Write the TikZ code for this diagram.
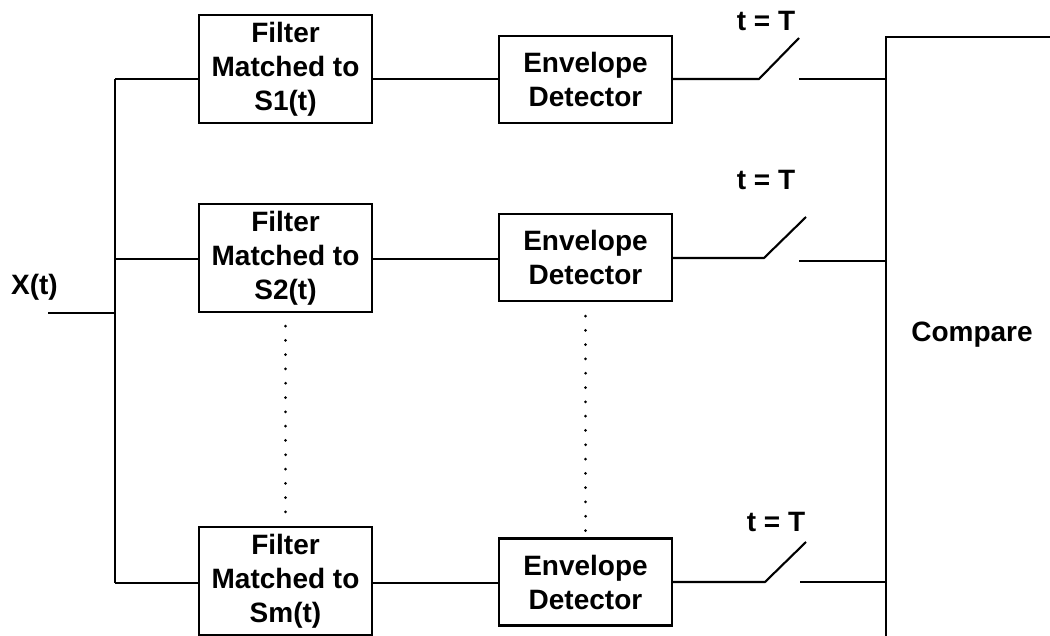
\documentclass[tikz,border=0pt]{standalone}
\usepackage{fontspec}
\setmainfont{Liberation Sans}
\usetikzlibrary{calc}
\begin{document}
\begin{tikzpicture}[x=1pt,y=-1pt,line width=2.1pt,
  txt/.style={font=\bfseries\fontsize{28}{34}\selectfont},
  filterbox/.style={draw,txt,align=center,inner sep=0pt,minimum width=173pt,minimum height=108pt},
  envbox/.style={draw,txt,align=center,inner sep=0pt,minimum width=173pt,minimum height=87pt},
  lbl/.style={txt,inner sep=0pt},
  dotline/.style={line width=3pt,line cap=round,dash pattern=on 0pt off 14.3pt}]
\useasboundingbox (0,0) rectangle (1050,636);

% matched filters
\node[filterbox] (f1) at (285.5,69)  {Filter\\Matched to\\S1(t)};
\node[filterbox] (f2) at (285.5,258) {Filter\\Matched to\\S2(t)};
\node[filterbox] (f3) at (285.5,581) {Filter\\Matched to\\Sm(t)};

% envelope detectors
\node[envbox] (e1) at (585.5,79.5) {Envelope\\Detector};
\node[envbox] (e2) at (585.5,257.5) {Envelope\\Detector};
\node[envbox] (e3) at (585.5,582) {Envelope\\Detector};

% labels
\node[lbl] (x) at (34.5,287) {X(t)};
\node[lbl] (t1) at (766,21) {t = T};
\node[lbl] (t2) at (766,180) {t = T};
\node[lbl] (t3) at (776,522) {t = T};
\node[lbl] (cmp) at (972,335) {Compare};

% input bus
\coordinate (in) at (48,313);
\coordinate (j)  at (115,313);
\coordinate (b1) at (115,79);
\coordinate (b2) at (115,259);
\coordinate (b3) at (115,583);
\draw (in) -- (j);
\draw (b1) -- (b3);
\draw (b1) -- (b1 -| f1.west);
\draw (b2) -- (b2 -| f2.west);
\draw (b3) -- (b3 -| f3.west);

% filter to envelope detector
\draw (b1 -| f1.east) -- (b1 -| e1.west);
\draw (b2 -| f2.east) -- (b2 -| e2.west);
\draw (b3 -| f3.east) -- (b3 -| e3.west);

% sampling switches
\coordinate (s1a) at (759,79);  \coordinate (s1b) at (799,38);  \coordinate (s1c) at (799,79);
\coordinate (s2a) at (764,258); \coordinate (s2b) at (806,217); \coordinate (s2c) at (799,261);
\coordinate (s3a) at (765,582); \coordinate (s3b) at (806,542); \coordinate (s3c) at (800,582);
\coordinate (ct) at (886,36.7);
\coordinate (cb) at (886,640);
\coordinate (cr) at (1052,36.7);

\draw (e1.east |- s1a) -- (s1a) -- (s1b);
\draw (e2.east |- s2a) -- (s2a) -- (s2b);
\draw (e3.east |- s3a) -- (s3a) -- (s3b);
\draw (s1c) -- (s1c -| ct);
\draw (s2c) -- (s2c -| ct);
\draw (s3c) -- (s3c -| ct);

% comparator outline
\draw (cb) -- (ct) -- (cr);

% omitted branches
\draw[dotline] (f2.south) ++(0,13) -- (f3.north);
\draw[dotline] (e2.south) ++(0,14) -- (e3.north);
\end{tikzpicture}
\end{document}
